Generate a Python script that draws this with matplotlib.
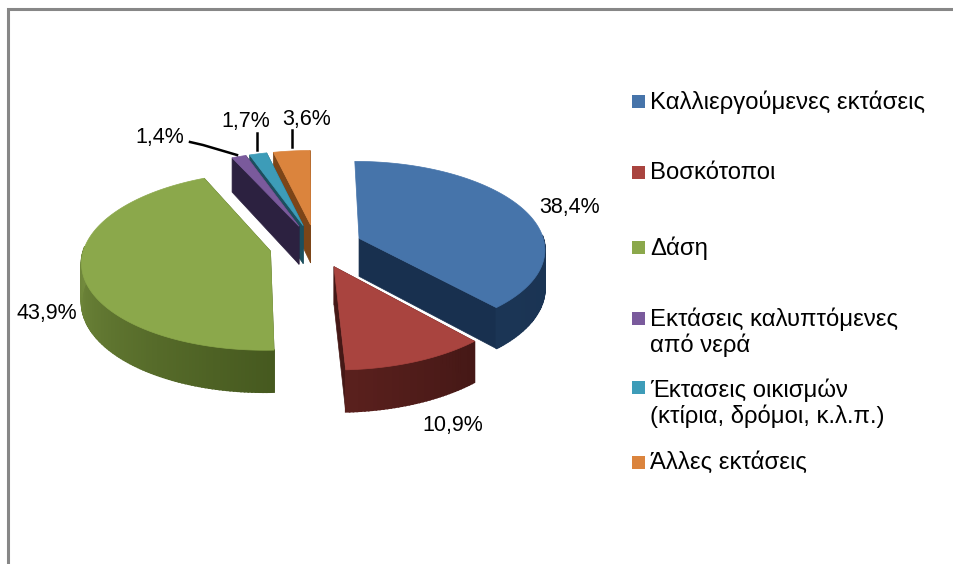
"""Exploded 3D style pie of land use, drawn as projected polygons."""

import numpy as np
import matplotlib
matplotlib.use('Agg')
import matplotlib.pyplot as plt
from matplotlib.patches import Rectangle

plt.rcParams['font.family'] = ['Liberation Sans', 'DejaVu Sans']

# Chart data
categories = ['Καλλιεργούμενες εκτάσεις', 'Βοσκότοποι', 'Δάση',
              'Εκτάσεις καλυπτόμενες\nαπό νερά',
              'Έκτασεις οικισμών\n(κτίρια, δρόμοι, κ.λ.π.)', 'Άλλες εκτάσεις']
shares = [38.4, 10.9, 43.9, 1.4, 1.7, 3.6]
share_labels = ['38,4%', '10,9%', '43,9%', '1,4%', '1,7%', '3,6%']

# Styles
top_colors = ['#4674AA', '#A9443F', '#8BA84B', '#7A5A9C', '#3D9CB8', '#DB843D']
wall_light = ['#1B3555', '#5A201D', '#8FAB50', '#35284C', '#235F70', '#96561F']
wall_dark = ['#18304F', '#451816', '#46591F', '#2C2140', '#1C4F5E', '#7C4518']
label_pos = [(570, 207), (453, 426), (47, 314), (160, 138), (246, 122), (307, 120)]
legend_y = [101, 172, 247, 318, 387, 462]
legend_text_y = [102, 173, 248, 332, 403, 463]

# Projection of the pie plane to the picture, in pixels
CENTER_X, CENTER_Y = 316, 246
RADIUS_X, RADIUS_Y = 186, 87
PERSPECTIVE = 0.11
EXPLODE = 0.25


def project(x, front):
    """Screen position of a point of the pie plane (front is toward the viewer)."""
    w = 1 - PERSPECTIVE * front
    return CENTER_X + RADIUS_X * x / w, CENTER_Y + RADIUS_Y * front / w


def depth(front):
    return 38 + 4 * front


def hex_mix(c1, c2, t):
    rgb1 = np.array(matplotlib.colors.to_rgb(c1))
    rgb2 = np.array(matplotlib.colors.to_rgb(c2))
    return tuple(rgb1 + (rgb2 - rgb1) * t)


fig = plt.figure(figsize=(9.54, 5.64), dpi=100)
ax = fig.add_axes([0, 0, 1, 1])
ax.set_xlim(0, 954)
ax.set_ylim(564, 0)
ax.axis('off')

# Frame, only the top and left edges are visible
ax.plot([8.5, 8.5, 954], [564, 9, 9], color='#878787', lw=2.2, solid_joinstyle='miter')

# Slice angles, clockwise from twelve o'clock
edges = 90 - 3.6 * np.concatenate(([0], np.cumsum(shares)))

for i in [5, 4, 3, 2, 0, 1]:  # back slices first
    start, end = edges[i], edges[i + 1]
    mid = np.radians((start + end) / 2)
    ex = EXPLODE * np.cos(mid)
    ef = -EXPLODE * np.sin(mid)
    tip_x, tip_y = project(ex, ef)

    angles = np.radians(np.linspace(start, end, max(int(start - end), 12)))
    rim_x, rim_y = project(ex + np.cos(angles), ef - np.sin(angles))
    d = depth(-np.sin(angles))
    d_tip = 38

    # radial walls, the first slice's back wall would poke out on its left
    for k in [0, -1]:
        if i == 0 and k == 0:
            continue
        ax.fill([tip_x, rim_x[k], rim_x[k], tip_x],
                [tip_y, rim_y[k], rim_y[k] + d[k], tip_y + d_tip],
                color=wall_dark[i], lw=0.5, zorder=1)

    # outer wall as thin strips so it can carry a gradient
    for k in range(len(angles) - 1):
        if np.sin(angles[k]) > 0.05:  # back of the rim is hidden by the top face
            continue
        t = k / (len(angles) - 2)
        ax.fill([rim_x[k], rim_x[k + 1], rim_x[k + 1], rim_x[k]],
                [rim_y[k], rim_y[k + 1], rim_y[k + 1] + d[k + 1], rim_y[k] + d[k]],
                color=hex_mix(wall_dark[i], wall_light[i], t), lw=1.2, zorder=1)

    # top face
    ax.fill(np.r_[tip_x, rim_x], np.r_[tip_y, rim_y], color=top_colors[i], lw=0.5, zorder=1)

# Leader lines
ax.plot([190, 203, 237], [142, 145, 155], color='black', lw=1.8, zorder=2)
ax.plot([257, 257], [133, 150], color='black', lw=1.8, zorder=2)
ax.plot([292, 292], [130, 147], color='black', lw=1.8, zorder=2)

# Value labels
for text, (x, y) in zip(share_labels, label_pos):
    ax.text(x, y, text, fontsize=15.5, ha='center', va='center', color='black')

# Legend
for i, name in enumerate(categories):
    ax.add_patch(Rectangle((632, legend_y[i] - 6.5), 13, 13, color=top_colors[i], lw=0))
    ax.text(650, legend_text_y[i], name, fontsize=17.2, ha='left', va='center',
            color='black', linespacing=1.12)

plt.savefig('out.png', dpi=100)
